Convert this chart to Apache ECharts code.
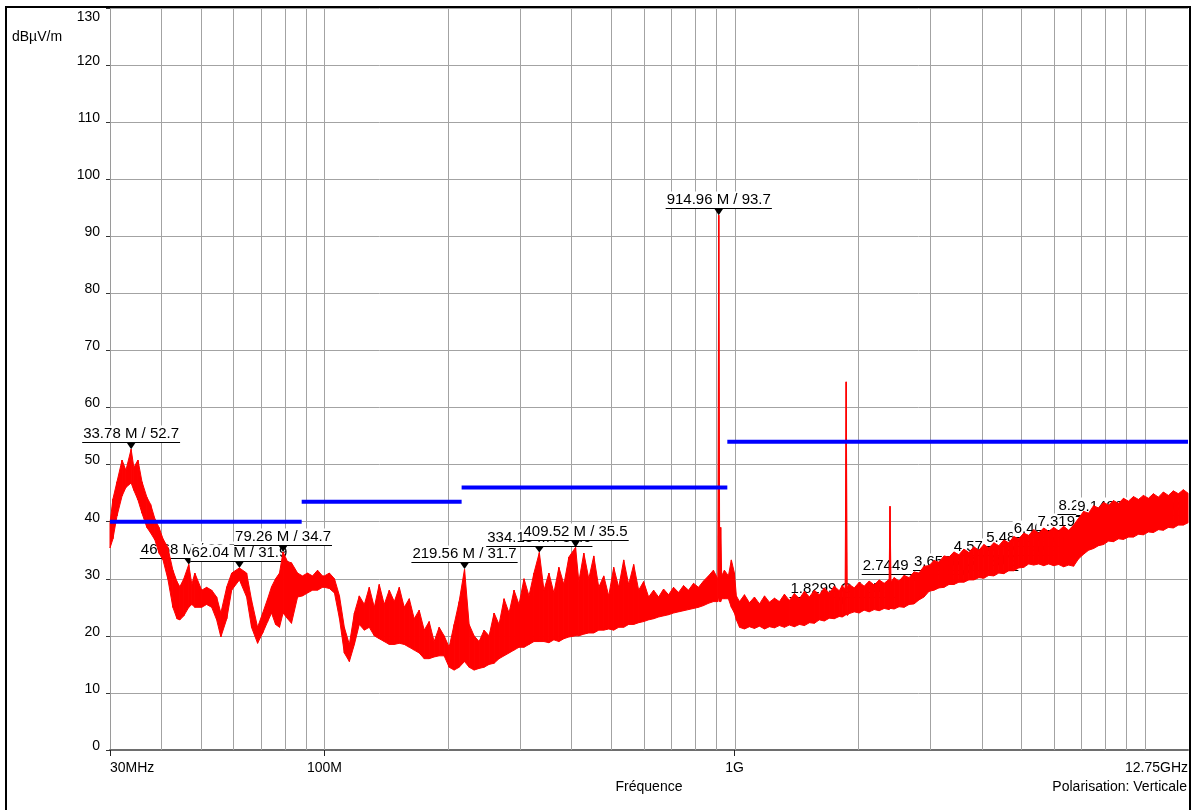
<!DOCTYPE html>
<html><head><meta charset="utf-8">
<script src="https://cdn.jsdelivr.net/npm/echarts@6/dist/echarts.min.js"></script>
<style>html,body{margin:0;padding:0;background:#fff}#c{width:1191px;height:810px}</style>
</head><body><div id="c"></div>
<script>
// ---- data (frequency in MHz, level in dBµV/m) ----
const traceFreq = [
  30.0,30.5,31.2,32.1,32.8,33.78,34.3,35.1,35.9,36.9,37.7,38.6,39.5,40.4,41.5,42.7,43.7,44.4,45.4,46.68,47.5,48.3,50.2,51.6,53.1,54.6,55.9,57.8,59.4,62.04,64.6,66.4,68.7,70.7,72.7,74.3,76.0,77.7,79.26,81.3,83.1,86.0,88.4,90.9,93.5,96.2,98.9,
  100,102.8,105.8,108.8,111.8,115,118.3,121.6,125.1,128.6,132.3,136,139.9,143.9,148,152.2,156.5,161,165.5,170.2,175.1,180,185.1,190.4,195.8,201.4,207.1,213,219.56,225.3,231.7,238.3,245,252,259.2,266.5,274.1,281.9,289.9,298.1,306.6,315.3,324.2,334.13,342.9,352.6,362.6,372.9,383.5,394.4,409.52,417.1,428.9,441.1,453.6,466.5,479.7,493.3,507.3,521.7,536.6,551.8,567.5,583.6,600.1,617.2,634.7,652.7,671.2,690.3,709.9,730,750.8,772.1,794,816.5,839.7,863.5,888,910,914.96,920,925,930,944.5,965.8,982,999,
  1010,1028,1057,1087,1118,1150,1183,1216,1251,1286,1323,1360,1399,1439,1480,1522,1565,1609,1655,1702,1750,1800,1829.9,1860,1871,1882,1904,1958,2013,2070,2129,2190,2252,2316,2381,2393,2406,2449,2518,2590,2663,2739,2816,2896,2979,3063,3150,3240,3332,3426,3523,3623,3726,3832,3941,4053,4168,4286,4408,4533,4662,4794,4930,5070,5214,5362,5514,5671,5832,5997,6168,6343,6523,6708,6898,7094,7296,7503,7716,7935,8160,8392,8630,8875,9127,9387,9653,9927,10209,10499,10797,11104,11419,11743,12077,12420,12750];
const traceHi = [
  39.8,44,47,50.8,49,52.7,49.5,50.8,47,44.3,43,40.5,39,37,35.5,31.5,29.5,28.6,30,32.5,29,31,28,28.5,28,26.8,24,28.6,31,31.9,31,26.3,21.5,24,26.5,28.6,30,31,34.7,33,32.8,31,30.5,31,30.5,31.5,30.5,
  30.5,31,30,27,21.5,18.5,24,27,25.5,28.5,25,29,25.5,28,26,28.5,25,26.5,23,24.5,21,22.5,19,21.5,20,18,22,26,31.7,22,20,19,21,20,24,22,26.5,24,28,25.5,30,27,31,34.6,28,31,27.5,32,29,33.8,35.5,29.5,34.5,30,34,28.5,30.5,27,32,28.5,33.3,29,32.5,28,29.5,26.8,28,26.8,28.2,27.2,28.5,27.6,28.8,28,29.2,28.5,29.6,30.5,31.5,30,93.7,30,39,30.5,31.5,30.5,33.3,31,
  27,26,27.2,25.8,26.8,25.6,27,25.9,26.6,26,27.3,26.2,27.4,26.5,27.8,26.8,28,27.2,28.4,27.5,28.7,27.9,28.8,28.2,64.5,28.5,29,28.4,29.4,28.7,29.6,28.9,29.8,29.2,29.9,42.7,29.5,30.2,29.6,30.6,30.2,31.2,31,32.2,32.3,33.2,32.9,34,33.8,34.7,34.2,35.2,34.6,35.6,35,36,35.4,36.3,35.8,36.8,36.3,37.4,37,38,37.6,38.6,38,38.9,38.3,39,38.4,39.2,38.5,39.4,40.6,41.8,41.5,42.8,42.4,43.4,42.9,43.7,43.2,44.1,43.6,44.4,43.9,44.6,44.1,44.9,44.3,45.2,44.6,45.4,44.9,45.6,45];
const traceLo = [
  35.4,37,41,44.5,46,46.8,45.5,43.8,41.5,39,38,36.8,34.5,33.3,30,25,23,22.8,23.5,25,25.5,25,25,25.5,25,22.8,19.8,23,28,29.8,26.8,21.5,18.7,20.5,22.5,24,22,21.5,24,23,22.2,26.8,27,27.5,28,28,28.5,
  28.5,28.3,27.5,23,17,15.5,18.5,22,21,21.5,20,19.5,19,18.5,18.5,18.7,18.5,18,17.5,17,16,16,16.3,16.5,16.5,14.5,14,14.5,15.5,14.5,14,14.3,14.5,15,15.2,16,16.5,17,17.5,18,18,18.5,19,19,19,18.8,19.3,19,19.5,19.8,20,20,20.3,20.5,20.5,21,21,21.2,21,21.5,21.5,22,22,22.3,22.5,22.8,23,23.3,23.5,23.7,24,24.2,24.4,24.6,24.8,25,25.3,25.7,26,26,27,26,26,26.5,26.5,26.5,25,24,
  22.8,21.5,21.2,21.6,21.3,21.7,21.2,21.6,21.4,21.8,21.5,21.9,21.6,22,21.8,22.3,22.2,22.8,22.6,23.1,23,23.4,23.3,23.6,23.8,23.6,23.9,24.2,24,24.5,24.2,24.6,24.4,24.8,24.6,24.8,24.8,24.7,25.1,25,25.5,25.6,26.3,26.8,27.8,28,28.4,28.5,29,29,29.4,29.4,29.8,29.8,30.2,30.1,30.6,30.5,31,30.9,31.4,31.4,31.9,32,32.6,32.4,32.6,32.3,32.6,32.3,32.5,32.1,32.4,32.2,33.5,34.3,35,35.3,35.8,36,36.6,36.5,37,36.9,37.3,37.3,37.8,37.7,38.2,38.1,38.6,38.5,39,38.9,39.4,39.4,39.8];

// limit lines
const limitStart = [30, 88, 216, 960];
const limitEnd = [88, 216, 960, 12750];
const limitLevel = [40, 43.5, 46, 54];

// peak markers
const markerFreq = [33.78, 46.68, 62.04, 79.26, 219.56, 334.13, 409.52, 914.96, 1829.9, 2744.9, 3659.8, 4574.8, 5489.8, 6404.7, 7319.7, 8234.6, 9149.6];
const markerLevel = [52.7, 32.5, 31.9, 34.7, 31.7, 34.6, 35.5, 93.7, 25.5, 29.6, 30.3, 33.0, 34.5, 36.1, 37.3, 40.2, 40.0];

// axes
const gridFreq = [40,50,60,70,80,90,100,200,300,400,500,600,700,800,900,1000,2000,3000,4000,5000,6000,7000,8000,9000,10000];
const xTickValues = [30, 100, 1000, 12750];
const xTickLabels = ['30MHz', '100M', '1G', '12.75GHz'];
const xMajorTicks = [30, 100, 1000];
const yMin = 0, yMax = 130, yStep = 10;

// ---- chart ----
const FONT = '"Liberation Sans", Arial, sans-serif';
const mctx = document.createElement('canvas').getContext('2d');
mctx.font = '15px ' + FONT;
function fmtFreq(f) { return f < 1000 ? f.toFixed(2) + ' M' : (f / 1000).toFixed(4) + ' G'; }

const chart = echarts.init(document.getElementById('c'), null, {renderer: 'canvas'});
chart.setOption({
  animation: false,
  backgroundColor: '#fff',
  grid: {left: 110, right: 2, top: 8, bottom: 60, containLabel: false},
  xAxis: {
    type: 'log', logBase: 10, min: 30, max: 12750,
    axisLine: {show: true, onZero: false, lineStyle: {color: '#6e6e6e', width: 2}},
    axisTick: {show: true, customValues: xMajorTicks, length: 6, lineStyle: {color: '#222', width: 1}},
    axisLabel: {
      customValues: xTickValues, color: '#000', fontSize: 14, fontFamily: FONT, margin: 11,
      showMinLabel: true, showMaxLabel: true, alignMinLabel: 'left', alignMaxLabel: 'right',
      formatter: function (v) {
        for (let i = 0; i < xTickValues.length; i++) if (Math.abs(v - xTickValues[i]) / xTickValues[i] < 1e-4) return xTickLabels[i];
        return '';
      }
    },
    splitLine: {show: false},
    minorTick: {show: false},
    name: 'Fréquence', nameLocation: 'middle', nameGap: 30,
    nameTextStyle: {color: '#000', fontSize: 14, fontFamily: FONT}
  },
  yAxis: {
    type: 'value', min: yMin, max: yMax, interval: yStep,
    axisLine: {show: true, lineStyle: {color: '#9a9a9a', width: 1}},
    axisTick: {show: true, length: 4, lineStyle: {color: '#333'}},
    axisLabel: {
      margin: 10, color: '#000', fontSize: 14, fontFamily: FONT,
      formatter: function (v) { return v === yMax ? '{t|' + v + '}' : '{n|' + v + '}'; },
      rich: {
        t: {fontSize: 14, fontFamily: FONT, color: '#000', padding: [18, 0, 0, 0]},
        n: {fontSize: 14, fontFamily: FONT, color: '#000', padding: [0, 0, 8, 0]}
      }
    },
    splitLine: {show: true, lineStyle: {color: '#a3a3a3', width: 1}}
  },
  graphic: [
    {type: 'text', left: 12, top: 30, style: {text: 'dBµV/m', font: '14px ' + FONT, fill: '#000'}},
    {type: 'text', right: 4, top: 780, style: {text: 'Polarisation: Verticale', font: '14px ' + FONT, fill: '#000'}},
    {type: 'rect', z: 100, silent: true, shape: {x: 6, y: 7, width: 1184, height: 830}, style: {fill: 'none', stroke: '#000', lineWidth: 2}}
  ],
  series: [
    { // vertical grid lines
      type: 'custom', z: 1, silent: true,
      data: gridFreq.map(f => [f, yMin]),
      encode: {x: 0, y: 1},
      renderItem: function (params, api) {
        const p0 = api.coord([api.value(0), yMin]);
        const p1 = api.coord([api.value(0), yMax]);
        const x = Math.round(p0[0]) + 0.5;
        return {type: 'line', shape: {x1: x, y1: p0[1], x2: x, y2: p1[1]}, style: {stroke: '#a3a3a3', lineWidth: 1}};
      }
    },
    { // marker labels
      type: 'custom', z: 2, silent: true,
      data: markerFreq.map((f, i) => [f, markerLevel[i]]),
      encode: {x: 0, y: 1},
      renderItem: function (params, api) {
        const i = params.dataIndex;
        const p = api.coord([api.value(0), api.value(1)]);
        const txt = fmtFreq(markerFreq[i]) + ' / ' + markerLevel[i].toFixed(1);
        const w = mctx.measureText(txt).width;
        const uy = Math.round(p[1] - 7) + 0.5;
        const x0 = p[0] - w / 2 - 1, x1 = p[0] + w / 2 + 1;
        return {type: 'group', children: [
          {type: 'rect', shape: {x: x0, y: uy - 17, width: x1 - x0, height: 17}, style: {fill: '#fff'}},
          {type: 'text', style: {x: p[0], y: uy - 8.5, text: txt, fill: '#000', font: '15px ' + FONT,
            textAlign: 'center', textVerticalAlign: 'middle', align: 'center', verticalAlign: 'middle'}},
          {type: 'line', shape: {x1: x0, y1: uy, x2: x1, y2: uy}, style: {stroke: '#000', lineWidth: 1}},
          {type: 'polygon', shape: {points: [[p[0] - 4.5, uy], [p[0] + 4.5, uy], [p[0], p[1]]]}, style: {fill: '#000'}}
        ]};
      }
    },
    { // measured trace as a min/max band
      type: 'custom', z: 3, silent: true,
      data: traceFreq.map((f, i) => [f, traceHi[i], traceLo[i]]),
      encode: {x: 0, y: [1, 2]},
      renderItem: function (params, api) {
        const i = params.dataIndex;
        if (i >= traceFreq.length - 1) return null;
        const a = api.coord([traceFreq[i], traceHi[i]]);
        const b = api.coord([traceFreq[i + 1], traceHi[i + 1]]);
        const c = api.coord([traceFreq[i + 1], traceLo[i + 1]]);
        const d = api.coord([traceFreq[i], traceLo[i]]);
        return {type: 'polygon', shape: {points: [a, b, c, d]}, style: {fill: '#ff0000', stroke: '#ff0000', lineWidth: 1}};
      }
    },
    { // limit lines
      type: 'custom', z: 4, silent: true,
      data: limitStart.map((s, i) => [s, limitLevel[i], limitEnd[i]]),
      encode: {x: 0, y: 1},
      renderItem: function (params, api) {
        const i = params.dataIndex;
        const p0 = api.coord([limitStart[i], limitLevel[i]]);
        const p1 = api.coord([limitEnd[i], limitLevel[i]]);
        return {type: 'line', shape: {x1: p0[0], y1: p0[1], x2: p1[0], y2: p1[1]}, style: {stroke: '#0000ff', lineWidth: 4}};
      }
    }
  ]
});
</script></body></html>
